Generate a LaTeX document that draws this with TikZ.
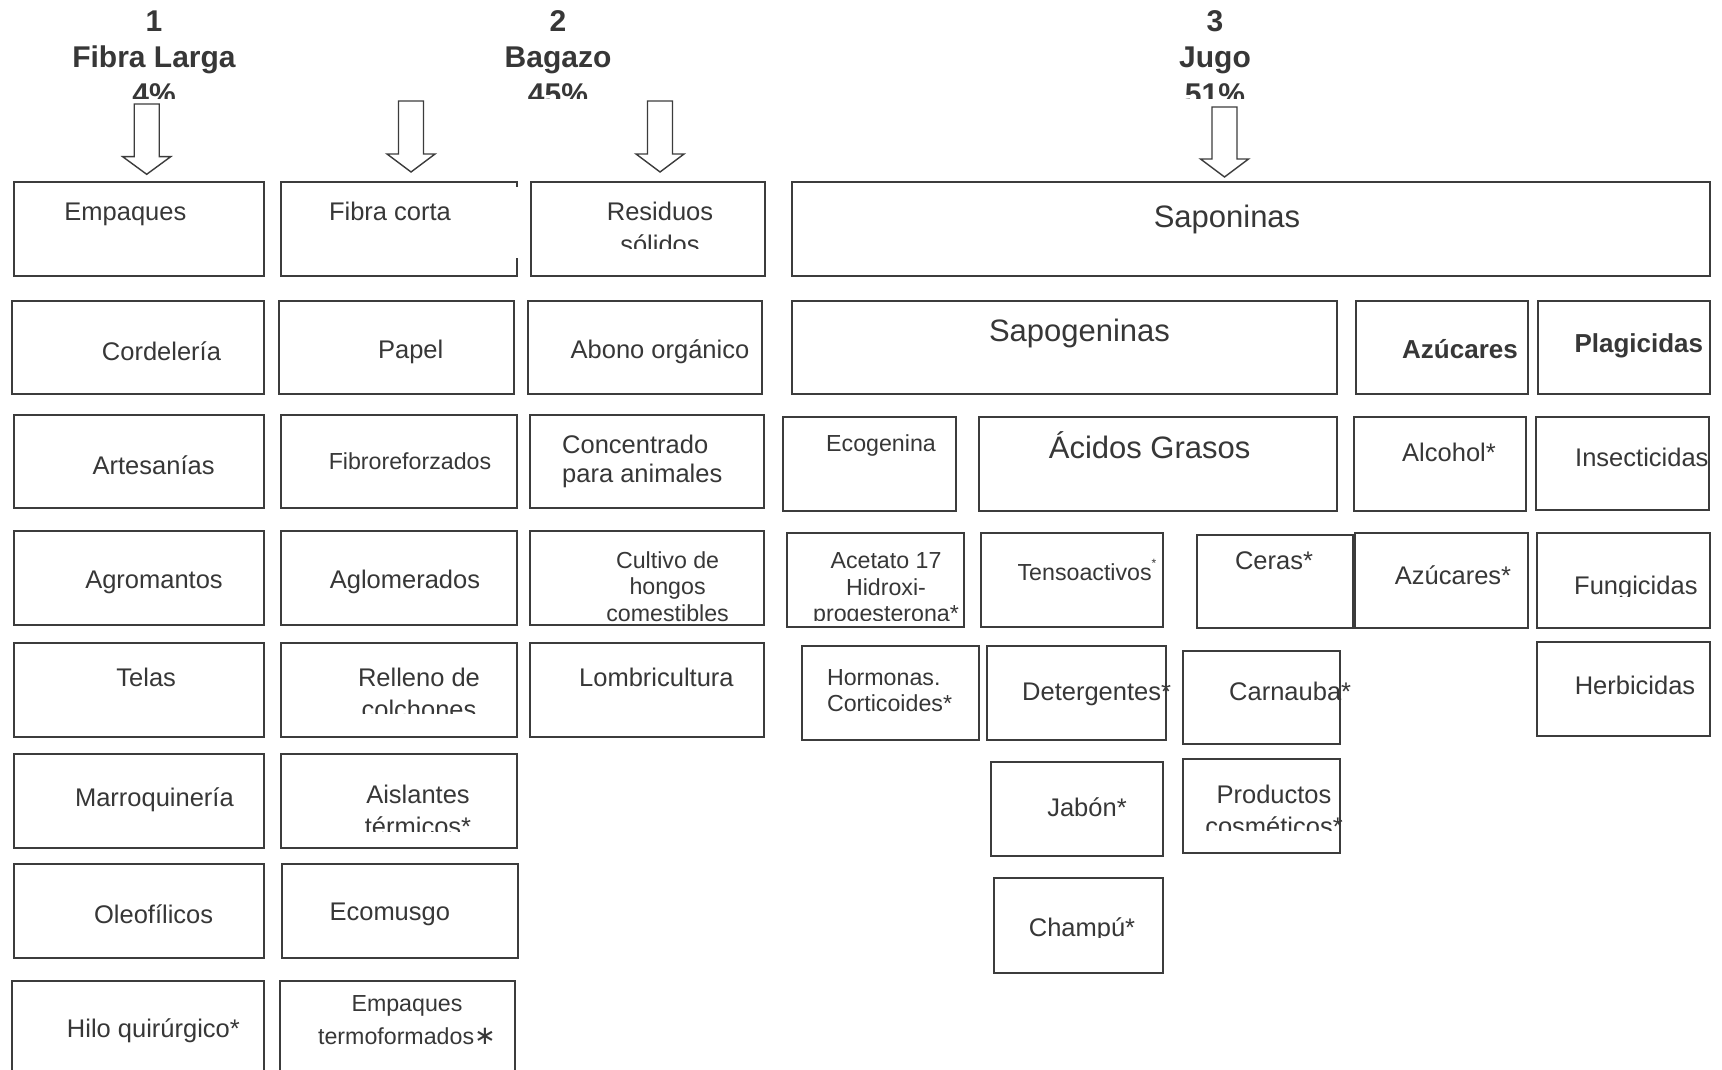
\documentclass[tikz,border=0pt]{standalone}
\usepackage{fontspec}
\setmainfont{Liberation Sans}
\newfontfamily\djv{DejaVu Sans}
\usetikzlibrary{fit}
\definecolor{tc}{RGB}{55,55,55}
\definecolor{lc}{RGB}{60,60,60}
\newcommand\bx[5]{\node[box, fit={(#2,#3) (#4,#5)}] (#1) {};}
\newcommand\barrow[3]{\draw[arr] (#1) ++(-12.5,0) -- ++(25,0) -- ++(0,#2) -- ++(11.5,0) -- ++(-24,#3) -- ++(-24,-#3) -- ++(11.5,0) -- cycle;}
\begin{document}
\begin{tikzpicture}[x=1pt,y=-1pt,
  box/.style={draw=lc, line width=2pt, inner sep=0pt},
  arr/.style={draw=lc, line width=1.4pt, line join=miter},
  txt/.style={text=tc, inner sep=0pt, anchor=base, font=\fontsize{25.5}{29}\selectfont},
  sm/.style={font=\fontsize{23.2}{26.6}\selectfont},
  lg/.style={font=\fontsize{31}{35}\selectfont},
  hd/.style={font=\bfseries\fontsize{30}{36.5}\selectfont, align=center},
  bd/.style={font=\bfseries\fontsize{26}{30}\selectfont},
  lft/.style={anchor=base west}]
\fill[white] (0,0) rectangle (1722,1070);
\useasboundingbox (0,0) rectangle (1722,1070);
\clip (0,0) rectangle (1722,1070);

% headings (base anchor = baseline of the last line)
\begin{scope}
\clip (0,0) rectangle (1722,98.5);
\node[txt, hd] (h1) at (154,104.5) {1\\Fibra Larga\\4\%};
\node[txt, hd] (h2) at (558,104.5) {2\\Bagazo\\45\%};
\node[txt, hd] (h3) at (1215,104.5) {3\\Jugo\\51\%};
\end{scope}

% block arrows
\coordinate (a1) at (146.7,104);
\coordinate (a2) at (411,101);
\coordinate (a3) at (660,101);
\coordinate (a4) at (1224.5,107);
\barrow{a1}{52.7}{17.6}
\barrow{a2}{53}{18}
\barrow{a3}{53}{18}
\barrow{a4}{52}{18}

% column 1
\bx{b-emp}{13.5}{182}{263.5}{276}
\bx{b-cord}{11.5}{300.5}{263.5}{394}
\bx{b-arte}{13.5}{414.5}{263.5}{508.3}
\bx{b-agro}{13.5}{531}{263.5}{625}
\bx{b-tela}{13.5}{642.7}{263.5}{736.7}
\bx{b-marr}{13.5}{754}{263.5}{848.3}
\bx{b-oleo}{14.3}{864}{263.5}{958.3}
\bx{b-hilo}{12}{980.7}{263.5}{1085}
\node[txt] (t-emp) at (125.4,220) {Empaques};
\node[txt] (t-cord) at (161.5,360) {Cordelería};
\node[txt] (t-arte) at (153.6,474) {Artesanías};
\node[txt] (t-agro) at (154,588.3) {Agromantos};
\node[txt] (t-tela) at (146.2,686.7) {Telas};
\node[txt] (t-marr) at (154.4,806.7) {Marroquinería};
\node[txt] (t-oleo) at (153.6,923.3) {Oleofílicos};
\node[txt] (t-hilo) at (153.4,1037) {Hilo quirúrgico*};

% column 2
\node[inner sep=0pt, fit={(281,182) (517,276)}] (b-fc) {};
\draw[line width=2pt, draw=lc] (b-fc.north east) ++(0,5) -- (b-fc.north east) -- (b-fc.north west) -- (b-fc.south west) -- (b-fc.south east) -- ++(0,-18);
\bx{b-pap}{279}{300.5}{514}{394}
\bx{b-fibr}{281}{414.5}{516.5}{508.3}
\bx{b-aglo}{281}{531}{516.5}{625}
\bx{b-rell}{281}{642.7}{516.5}{736.7}
\bx{b-aisl}{281}{754}{516.5}{848.3}
\bx{b-ecom}{282}{864}{518}{958.3}
\bx{b-etf}{279.6}{980.7}{515.3}{1085}
\node[txt] (t-fc) at (390,220) {Fibra corta};
\node[txt] (t-pap) at (410.7,358.3) {Papel};
\node[txt, sm] (t-fibr) at (410,469.3) {Fibroreforzados};
\node[txt] (t-aglo) at (405,588) {Aglomerados};
\begin{scope}
\clip (270,640) rectangle (530,713.5);
\node[txt, align=center, font=\fontsize{25.5}{31.5}\selectfont] (t-rell) at (419,718.2) {Relleno de\\colchones};
\end{scope}
\begin{scope}
\clip (270,750) rectangle (530,831.7);
\node[txt, align=center, font=\fontsize{25.5}{32.5}\selectfont] (t-aisl) at (418,835.8) {Aislantes\\térmicos*};
\end{scope}
\node[txt] (t-ecom) at (389.8,920) {Ecomusgo};
\node[txt, align=center, font=\fontsize{23.2}{33}\selectfont] (t-etf) at (407,1044.7) {Empaques\\termoformados{\djv\fontsize{26}{26}\selectfont ∗}};

% column 3
\bx{b-res}{531}{182}{764.5}{276}
\bx{b-abon}{527.6}{300.5}{761.7}{394}
\bx{b-conc}{530}{414.5}{764.3}{508.3}
\bx{b-cult}{530}{531}{764.3}{625}
\bx{b-lomb}{530}{642.7}{764.3}{736.7}
\begin{scope}
\clip (520,180) rectangle (780,248.5);
\node[txt, align=center, font=\fontsize{25.5}{33}\selectfont] (t-res) at (660,253.7) {Residuos\\sólidos};
\end{scope}
\node[txt] (t-abon) at (660,358) {Abono orgánico};
\node[txt, align=left, lft, font=\fontsize{25.5}{29}\selectfont] (t-conc) at (562,482.3) {Concentrado\\para animales};
\begin{scope}
\clip (520,530) rectangle (780,623.5);
\node[txt, align=center, font=\fontsize{23.2}{26.5}\selectfont] (t-cult) at (667.6,621.3) {Cultivo de\\hongos\\comestibles};
\end{scope}
\node[txt] (t-lomb) at (656.4,686.7) {Lombricultura};

% Jugo side
\bx{b-sapo}{792}{182}{1710}{276}
\bx{b-sapg}{792}{300.5}{1336.6}{394}
\bx{b-azu}{1356.2}{300.5}{1527.8}{394}
\bx{b-plag}{1538.2}{300.5}{1710}{394}
\bx{b-ecog}{783.3}{416.7}{956}{510.7}
\bx{b-acid}{978.8}{416.7}{1336.6}{510.7}
\bx{b-alc}{1354.4}{416.7}{1526}{510.7}
\bx{b-ins}{1536}{416.7}{1709}{510}
\bx{b-acet}{787.3}{533.3}{964.3}{627.3}
\bx{b-tens}{981.2}{533}{1163.3}{627}
\bx{b-cera}{1196.7}{534.7}{1353.3}{628.3}
\bx{b-azu2}{1355.3}{533.3}{1527.8}{627.7}
\bx{b-fung}{1536.5}{533.3}{1710}{628}
\bx{b-horm}{802}{645.7}{979}{740}
\bx{b-det}{986.7}{645.7}{1166}{740}
\bx{b-carn}{1183.2}{650.7}{1339.5}{744}
\bx{b-herb}{1536.5}{642.3}{1710}{736}
\bx{b-jab}{991.2}{761.7}{1163.1}{856}
\bx{b-prod}{1183.2}{759}{1339.5}{853.3}
\bx{b-champ}{993.9}{878.3}{1163.1}{972.7}

\node[txt, lg] (t-sapo) at (1227,227) {Saponinas};
\node[txt, lg] (t-sapg) at (1079.5,341.7) {Sapogeninas};
\node[txt, bd] (t-azu) at (1460,358.3) {Azúcares};
\node[txt, bd] (t-plag) at (1638.8,352.7) {Plagicidas};
\node[txt, sm] (t-ecog) at (881,451) {Ecogenina};
\node[txt, lg] (t-acid) at (1149.6,458.3) {Ácidos Grasos};
\node[txt] (t-alc) at (1449,461.7) {Alcohol*};
\node[txt, lft] (t-ins) at (1575,466.7) {Insecticidas};
\begin{scope}
\clip (780,530) rectangle (975,620);
\node[txt, align=center, font=\fontsize{23.2}{26.7}\selectfont] (t-acet) at (886,621.7) {Acetato 17\\Hidroxi-\\progesterona*};
\end{scope}
\node[txt, sm] (t-tens) at (1087,580.5) {Tensoactivos\raisebox{13pt}{\fontsize{12}{12}\selectfont *}};
\node[txt] (t-cera) at (1274,569.3) {Ceras*};
\node[txt] (t-azu2) at (1453,584) {Azúcares*};
\begin{scope}
\clip (1540,530) rectangle (1715,596);
\node[txt, lft] (t-fung) at (1574,594) {Fungicidas};
\end{scope}
\node[txt, lft, align=left, font=\fontsize{23.2}{26}\selectfont] (t-horm) at (826.8,711) {Hormonas.\\Corticoides*};
\node[txt, lft] (t-det) at (1022,700) {Detergentes*};
\node[txt, lft] (t-carn) at (1229,700) {Carnauba*};
\node[txt] (t-herb) at (1635,694) {Herbicidas};
\node[txt] (t-jab) at (1087,816) {Jabón*};
\begin{scope}
\clip (1180,755) rectangle (1360,830.7);
\node[txt, align=center, font=\fontsize{25.5}{32.5}\selectfont] (t-prod) at (1274,835.8) {Productos\\cosméticos*};
\end{scope}
\begin{scope}
\clip (990,875) rectangle (1170,937);
\node[txt] (t-champ) at (1082,936.7) {Champú*};
\end{scope}
\end{tikzpicture}
\end{document}
